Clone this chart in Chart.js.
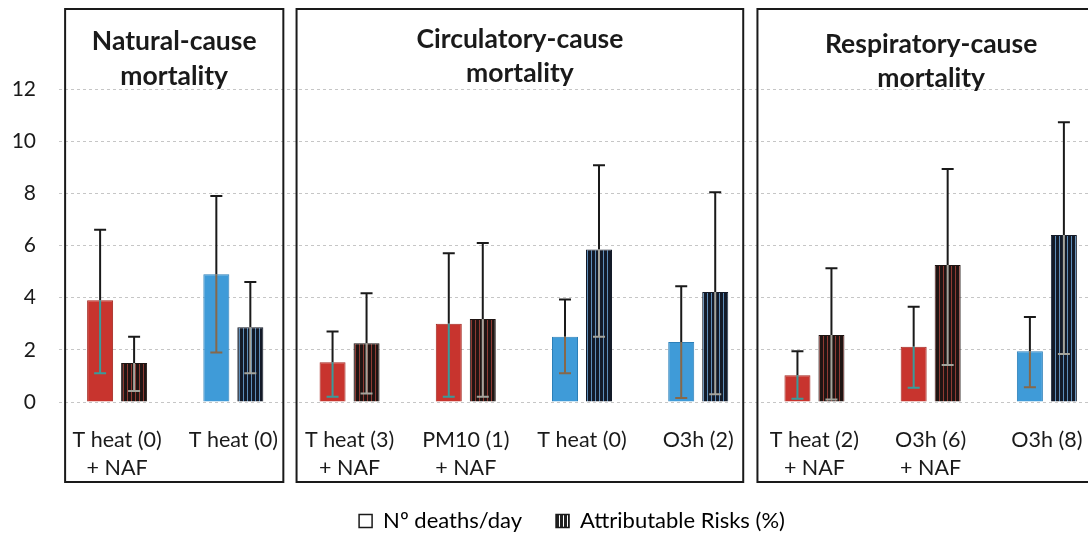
<!DOCTYPE html>
<html><head><meta charset="utf-8">
<script src="https://cdn.jsdelivr.net/npm/chart.js@4"></script>
<style>
html,body{margin:0;padding:0;background:#fff;overflow:hidden;width:1088px;height:533px;}
#wrap{position:relative;width:1131px;height:542px;}
</style></head>
<body><div id="wrap"><canvas id="c" width="1131" height="542"></canvas></div>
<script>
// ---- data ----
const categories = [['T heat (0)','+ NAF'], 'T heat (0)', ['T heat (3)','+ NAF'], ['PM10 (1)','+ NAF'], 'T heat (0)', 'O3h (2)', ['T heat (2)','+ NAF'], ['O3h (6)','+ NAF'], 'O3h (8)'];
const withNAF = [true, false, true, true, false, false, true, true, false];
const deaths     = [3.9, 4.9, 1.52, 3.0, 2.5, 2.3, 1.03, 2.12, 1.95];
const deathsLow  = [1.1, 1.9, 0.2, 0.2, 1.1, 0.15, 0.12, 0.55, 0.57];
const deathsHigh = [6.6, 7.9, 2.7, 5.7, 3.93, 4.44, 1.95, 3.65, 3.26];
const attrRisk     = [1.5, 2.87, 2.25, 3.18, 5.85, 4.22, 2.57, 5.25, 6.4];
const attrRiskLow  = [0.42, 1.1, 0.33, 0.2, 2.5, 0.3, 0.1, 1.42, 1.84];
const attrRiskHigh = [2.5, 4.6, 4.17, 6.1, 9.08, 8.04, 5.13, 8.93, 10.73];
const seriesNames = ['Nº deaths/day', 'Attributable Risks (%)'];
const yTicks = [0, 2, 4, 6, 8, 10, 12];
const panelTitles = [['Natural-cause','mortality'], ['Circulatory-cause','mortality'], ['Respiratory-cause','mortality']];
const panelFirst = [0, 2, 6];
const panelLast  = [1, 5, 8];

// ---- styles ----
const ink = '#1a1a1a';
const FONT = 'Lato, "Open Sans", sans-serif';
const red = '#c8342e', redEdge = '#a3261f';
const blue = '#3f9bd8', blueEdge = '#2c7fb8';
const panelStyle = { top: 9, bottom: 482, padL: [52, 53, 57], padR: [50, 45, 58], baselines: [[50, 85], [48, 82], [53, 87]] };

function stripes(base, line) {
  const c = document.createElement('canvas'); c.width = 4; c.height = 4;
  const g = c.getContext('2d');
  g.fillStyle = base; g.fillRect(0, 0, 4, 4);
  g.fillStyle = line; g.fillRect(3, 0, 1, 4);
  return g.createPattern(c, 'repeat');
}
const redStripe = stripes('#1f1513', '#8e3a33');
const blueStripe = stripes('#131a28', '#5d8cb8');
const legendStripe = stripes('#222222', '#ffffff');

const errorBars = {
  id: 'errorBars',
  afterDatasetsDraw(chart) {
    const ctx = chart.ctx, y = chart.scales.y;
    chart.data.datasets.forEach((ds, di) => {
      const meta = chart.getDatasetMeta(di);
      meta.data.forEach((bar, i) => {
        const x = bar.x, top = bar.y;
        const yl = y.getPixelForValue(ds.errLow[i]);
        const yh = y.getPixelForValue(ds.errHigh[i]);
        const inner = di === 0 ? (withNAF[i] ? '#3a9a9a' : '#86684a') : '#a4a49c';
        const cap = 6;
        ctx.save();
        ctx.lineWidth = 2;
        ctx.strokeStyle = ink;
        ctx.beginPath();
        ctx.moveTo(x, top); ctx.lineTo(x, yh);
        ctx.moveTo(x - cap, yh); ctx.lineTo(x + cap, yh);
        ctx.stroke();
        ctx.strokeStyle = inner;
        ctx.beginPath();
        ctx.moveTo(x, yl); ctx.lineTo(x, top);
        ctx.moveTo(x - cap, yl); ctx.lineTo(x + cap, yl);
        ctx.stroke();
        ctx.restore();
      });
    });
  }
};

const panels = {
  id: 'panels',
  afterDraw(chart) {
    const ctx = chart.ctx, x = chart.scales.x;
    panelTitles.forEach((t, p) => {
      const l = x.getPixelForValue(panelFirst[p]) - panelStyle.padL[p];
      const r = x.getPixelForValue(panelLast[p]) + panelStyle.padR[p];
      ctx.save();
      ctx.strokeStyle = ink; ctx.lineWidth = 2;
      ctx.strokeRect(l, panelStyle.top, r - l, panelStyle.bottom - panelStyle.top);
      ctx.fillStyle = ink;
      ctx.font = 'bold 26.5px ' + FONT;
      ctx.textAlign = 'center'; ctx.textBaseline = 'alphabetic';
      t.forEach((line, k) => ctx.fillText(line, (l + r) / 2, panelStyle.baselines[p][k]));
      ctx.restore();
    });
  }
};

new Chart(document.getElementById('c'), {
  type: 'bar',
  data: {
    labels: categories,
    datasets: [
      { label: seriesNames[0], data: deaths, errLow: deathsLow, errHigh: deathsHigh,
        backgroundColor: withNAF.map(n => n ? red : blue),
        borderColor: withNAF.map(n => n ? redEdge : blueEdge), borderWidth: 1 },
      { label: seriesNames[1], data: attrRisk, errLow: attrRiskLow, errHigh: attrRiskHigh,
        backgroundColor: withNAF.map(n => n ? redStripe : blueStripe),
        borderColor: withNAF.map(n => n ? '#1f1513' : '#131a28'), borderWidth: 1 }
    ]
  },
  options: {
    responsive: false,
    devicePixelRatio: 1,
    animation: false,
    categoryPercentage: 0.585,
    barPercentage: 0.765,
    layout: { padding: { top: 89, left: 13, right: 0, bottom: 0 } },
    scales: {
      x: {
        grid: { display: false }, border: { display: false },
        ticks: { color: ink, font: { family: FONT, size: 21.5, lineHeight: 1.3 }, padding: 16, maxRotation: 0, autoSkip: false },
        afterFit(s) { s.height = 74; s.paddingLeft = 0; s.paddingRight = 0; }
      },
      y: {
        min: 0, max: 12,
        afterBuildTicks(s) { s.ticks = yTicks.map(v => ({ value: v })); },
        ticks: { color: ink, font: { family: FONT, size: 21 }, padding: 23 },
        grid: { color: '#c6c6c6', lineWidth: 1, drawTicks: false },
        border: { display: false, dash: [3, 3] },
        afterFit(s) { s.width = 46; }
      },
      y2: {
        position: 'right', display: true,
        grid: { display: false }, border: { display: false }, ticks: { display: false },
        afterFit(s) { s.width = 26; }
      }
    },
    plugins: {
      tooltip: { enabled: false },
      legend: {
        position: 'bottom',
        labels: {
          color: ink, font: { family: FONT, size: 22 }, boxWidth: 13, boxHeight: 13, padding: 34,
          generateLabels: () => [
            { text: seriesNames[0], fillStyle: '#ffffff', strokeStyle: ink, lineWidth: 1.5, datasetIndex: 0, hidden: false },
            { text: seriesNames[1], fillStyle: legendStripe, strokeStyle: ink, lineWidth: 1.5, datasetIndex: 1, hidden: false }
          ]
        }
      }
    }
  },
  plugins: [errorBars, panels]
});
</script>
</body></html>
